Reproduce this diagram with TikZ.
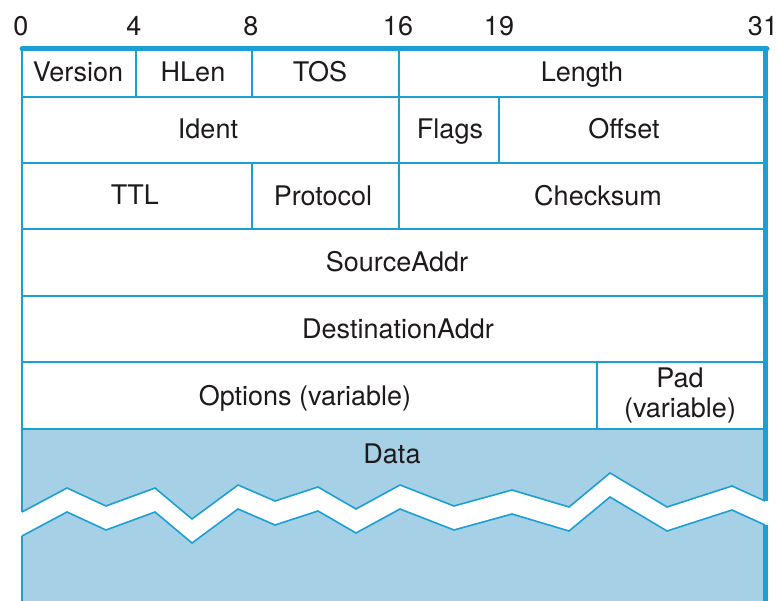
\documentclass[tikz,border=0pt]{standalone}
\usepackage{fontspec}
\setmainfont{TeX Gyre Heros}
\definecolor{rule}{RGB}{28,160,212}
\definecolor{datafill}{RGB}{166,208,230}
\definecolor{ink}{RGB}{30,26,27}
\tikzset{
  cell/.style={draw=rule,line width=1.6pt},
  frame/.style={draw=rule,line width=5pt},
  lbl/.style={text=ink,font=\fontsize{27}{31}\selectfont,text height=19.4pt,text depth=0pt,inner sep=0pt},
  twolines/.style={text=ink,font=\fontsize{27}{30}\selectfont,align=center,inner sep=0pt}
}
% the torn edge across the data part
\newcommand\tearline{(22,512) -- (67,488) -- (106,506) -- (155,488) -- (192,519)
  -- (238,485) -- (275,501) -- (318,487) -- (356,509) -- (400,485) -- (454,506)
  -- (512,490) -- (569,507) -- (610,473) -- (667,507) -- (732,486) -- (765,501)}

\begin{document}
\begin{tikzpicture}[x=1pt,y=-1pt]
\useasboundingbox (0,0) rectangle (779,601);
% data part with the tear
\fill[datafill] (22,429) rectangle (765,601);
\fill[white] \tearline -- (779,501) -- (779,601) -- (0,601) -- (0,512) -- cycle;
\fill[datafill,shift={(0,24)}] \tearline -- (765,577) -- (22,577) -- cycle;
\draw[cell] \tearline;
\draw[cell,shift={(0,24)}] \tearline;
% rows
\draw[cell] (22,97) -- (765,97);
\draw[cell] (22,163) -- (765,163);
\draw[cell] (22,229) -- (765,229);
\draw[cell] (22,296) -- (765,296);
\draw[cell] (22,362) -- (765,362);
\draw[cell] (22,429) -- (765,429);
% columns
\draw[cell] (136,48) -- (136,97);
\draw[cell] (252,48) -- (252,97);
\draw[cell] (399,48) -- (399,229);
\draw[cell] (499,97) -- (499,163);
\draw[cell] (252,163) -- (252,229);
\draw[cell] (597,362) -- (597,429);
% outline
\draw[cell] (22,48) -- (22,512);
\draw[cell] (22,536) -- (22,601);
\draw[frame] (765.5,48) -- (765.5,501);
\draw[frame] (765.5,525) -- (765.5,601);
\draw[frame,line cap=round] (22,49) -- (767,49);
% bit numbers
\node[lbl] (b0) at (21,26) {0};
\node[lbl] (b4) at (134,26) {4};
\node[lbl] (b8) at (251,26) {8};
\node[lbl] (b16) at (398,26) {16};
\node[lbl] (b19) at (499,26) {19};
\node[lbl] (b31) at (763,26) {31};
% fields
\node[lbl] (version) at (78,72) {Version};
\node[lbl] (hlen) at (193,72) {HLen};
\node[lbl] (tos) at (320,72) {TOS};
\node[lbl] (length) at (582,72) {Length};
\node[lbl] (ident) at (208,129) {Ident};
\node[lbl] (flags) at (450,129) {Flags};
\node[lbl] (offset) at (624,129) {Offset};
\node[lbl] (ttl) at (135,195) {TTL};
\node[lbl] (proto) at (323,196) {Protocol};
\node[lbl] (cksum) at (598,196) {Checksum};
\node[lbl] (src) at (397,262) {SourceAddr};
\node[lbl] (dst) at (398,329) {DestinationAddr};
\node[lbl] (opts) at (305,396) {Options (variable)};
\node[twolines] (pad) at (680,396) {Pad\\(variable)};
\node[lbl] (data) at (392,454) {Data};
\end{tikzpicture}
\end{document}
